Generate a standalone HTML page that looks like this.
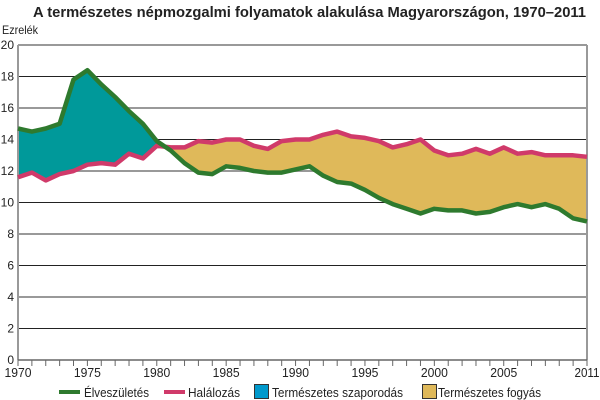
<!DOCTYPE html>
<html><head><meta charset="utf-8"><style>
body{margin:0;background:#fff}
svg{display:block;font-family:"Liberation Sans Narrow","Liberation Sans",sans-serif}
</style></head><body>
<svg id="s" width="600" height="400" xmlns="http://www.w3.org/2000/svg">
<text x="33" y="17" font-size="15" font-weight="bold" fill="#222" textLength="553" lengthAdjust="spacingAndGlyphs">A természetes népmozgalmi folyamatok alakulása Magyarországon, 1970–2011</text>
<text x="2" y="34" font-size="12" fill="#222" textLength="36" lengthAdjust="spacingAndGlyphs">Ezrelék</text>
</svg>
<script>
const B=[14.7,14.5,14.7,15.0,17.8,18.4,17.5,16.7,15.8,15.0,13.9,13.3,12.5,11.9,11.8,12.3,12.2,12.0,11.9,11.9,12.1,12.3,11.7,11.3,11.2,10.8,10.3,9.9,9.6,9.3,9.6,9.5,9.5,9.3,9.4,9.7,9.9,9.7,9.9,9.6,9.0,8.8];
const D=[11.6,11.9,11.4,11.8,12.0,12.4,12.5,12.4,13.1,12.8,13.6,13.5,13.5,13.9,13.8,14.0,14.0,13.6,13.4,13.9,14.0,14.0,14.3,14.5,14.2,14.1,13.9,13.5,13.7,14.0,13.3,13.0,13.1,13.4,13.1,13.5,13.1,13.2,13.0,13.0,13.0,12.9];
const x0=18,x1=587,y0=360,ys=15.75,X=i=>x0+(x1-x0)*i/41,Y=v=>y0-v*ys;
const s=document.getElementById('s');let h='';
const pts=a=>a.map((v,i)=>X(i).toFixed(1)+','+Y(v).toFixed(1)).join(' ');
const T=(x,y,t,w,a)=>`<text x="${x}" y="${y}" font-size="13" fill="#222" ${a?'text-anchor="'+a+'"':''} textLength="${w}" lengthAdjust="spacingAndGlyphs">${t}</text>`;
h+=`<defs><clipPath id="aboveD"><polygon points="${X(0)},0 ${pts(D)} ${X(41)},0"/></clipPath><clipPath id="aboveB"><polygon points="${X(0)},0 ${pts(B)} ${X(41)},0"/></clipPath></defs>`;
for(let v=2;v<=20;v+=2){h+=`<line x1="${x0}" x2="${x1}" y1="${Y(v)}" y2="${Y(v)}" stroke="${v%4==0?'#999':'#222'}" stroke-width="${v%4==0?2:1}"/>`;}
h+=`<polygon clip-path="url(#aboveD)" fill="#00999a" points="${X(0)},${y0} ${pts(B)} ${X(41)},${y0}"/>`;
h+=`<polygon clip-path="url(#aboveB)" fill="#dfb95a" points="${X(0)},${y0} ${pts(D)} ${X(41)},${y0}"/>`;
h+=`<line x1="${x0}" x2="${x0}" y1="45" y2="${y0}" stroke="#999" stroke-width="2"/><line x1="${x1}" x2="${x1}" y1="45" y2="${y0}" stroke="#999" stroke-width="2"/>`;
h+=`<polyline points="${pts(D)}" fill="none" stroke="#d03a6a" stroke-width="4.5" stroke-linejoin="round"/>`;
h+=`<polyline points="${pts(B)}" fill="none" stroke="#2e7a2e" stroke-width="4.5" stroke-linejoin="round"/>`;
h+=`<line x1="${x0}" x2="${x1}" y1="${y0}" y2="${y0}" stroke="#666" stroke-width="1.5"/>`;
for(let i=0;i<=41;i++)h+=`<line x1="${X(i)}" x2="${X(i)}" y1="${y0}" y2="${y0+6}" stroke="#666"/>`;
for(let v=0;v<=20;v+=2)h+=`<text x="14" y="${Y(v)+4}" font-size="12" text-anchor="end" fill="#222">${v}</text>`;
for(let yr=1970;yr<=2005;yr+=5){let i=yr-1970;h+=T(X(i),377,yr,27,'middle');}
h+=T(X(41),377,2011,25,'middle');
h+=`<line x1="59" x2="80" y1="392" y2="392" stroke="#2e7a2e" stroke-width="4"/>`+T(84,397,'Élveszületés',65);
h+=`<line x1="164" x2="185" y1="392" y2="392" stroke="#d03a6a" stroke-width="4"/>`+T(188,397,'Halálozás',52);
h+=`<rect x="254.5" y="384.5" width="14" height="14" fill="#0099cc" stroke="#333"/>`+T(272,397,'Természetes szaporodás',131);
h+=`<rect x="422.5" y="384.5" width="14" height="14" fill="#dfb95a" stroke="#333"/>`+T(438,397,'Természetes fogyás',103);
s.insertAdjacentHTML('beforeend',h);
</script>
</body></html>
